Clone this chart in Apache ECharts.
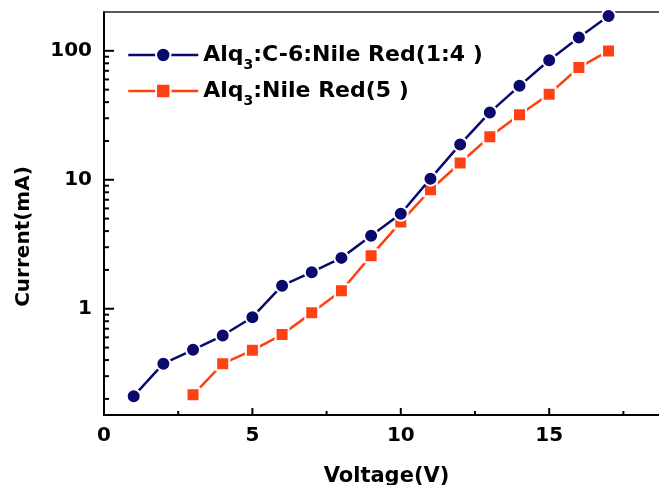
<!DOCTYPE html>
<html>
<head>
<meta charset="utf-8">
<script src="https://cdn.jsdelivr.net/npm/echarts@6/dist/echarts.min.js"></script>
<style>
html,body{margin:0;padding:0;background:#fff;}
#chart{width:659px;height:485px;}
</style>
</head>
<body>
<div id="chart"></div>
<script>
// ---- data ----
const seriesNames = ['Alq3:C-6:Nile Red(1:4 )', 'Alq3:Nile Red(5 )'];
const voltageA = [1, 2, 3, 4, 5, 6, 7, 8, 9, 10, 11, 12, 13, 14, 15, 16, 17];
const currentA = [0.21, 0.375, 0.48, 0.62, 0.86, 1.51, 1.92, 2.48, 3.68, 5.45, 10.2, 18.8, 33.3, 53.5, 84.6, 127, 186];
const voltageB = [3, 4, 5, 6, 7, 8, 9, 10, 11, 12, 13, 14, 15, 16, 17];
const currentB = [0.215, 0.375, 0.476, 0.63, 0.93, 1.38, 2.58, 4.7, 8.37, 13.5, 21.6, 31.9, 46.1, 74.2, 99.8];
const xMajorTicks = [0, 5, 10, 15];
const xMinorTicks = [2.5, 7.5, 12.5, 17.5];
const yMajorTicks = [1, 10, 100];
const yMinorTicks = [0.2, 0.3, 0.4, 0.5, 0.6, 0.7, 0.8, 0.9, 2, 3, 4, 5, 6, 7, 8, 9, 20, 30, 40, 50, 60, 70, 80, 90];
const xName = 'Voltage(V)';
const yName = 'Current(mA)';

const FONT = '"DejaVu Sans", Arial, sans-serif';
const TICK_COLOR = '#000000';
const xMin = 0, xMax = 18.7, yMin = 0.15, yMax = 200;

const chart = echarts.init(document.getElementById('chart'));

function pairs(xs, ys) { return xs.map((x, i) => [x, ys[i]]); }

// tick marks drawn through the axis scales (api.coord)
function xTickSeries(vals, len) {
  return {
    type: 'custom', z: 10,
    data: vals.map(v => [v, yMin]),
    renderItem: function (params, api) {
      const p = api.coord([api.value(0), api.value(1)]);
      return {type: 'line', shape: {x1: p[0], y1: p[1], x2: p[0], y2: p[1] - len}, style: {stroke: TICK_COLOR, lineWidth: 2}};
    }
  };
}
function yTickSeries(vals, len) {
  return {
    type: 'custom', z: 10,
    data: vals.map(v => [xMin, v]),
    renderItem: function (params, api) {
      const p = api.coord([api.value(0), api.value(1)]);
      return {type: 'line', shape: {x1: p[0], y1: p[1], x2: p[0] + len, y2: p[1]}, style: {stroke: TICK_COLOR, lineWidth: 2}};
    }
  };
}

const option = {
  animation: false,
  backgroundColor: '#ffffff',
  grid: {left: 104, right: 0, top: 12, bottom: 70, outerBoundsMode: 'none'},
  legend: {
    orient: 'vertical',
    left: 122,
    top: 37,
    itemWidth: 70,
    itemHeight: 18,
    itemGap: 6,
    data: seriesNames,
    lineStyle: {width: 2.5},
    formatter: function (name) { return name.replace('Alq3', 'Alq{sub|3}'); },
    textStyle: {
      fontFamily: FONT, fontWeight: 'bold', fontSize: 22, color: '#000', lineHeight: 26,
      rich: {
        sub: {fontFamily: FONT, fontWeight: 'bold', fontSize: 14, lineHeight: 26, verticalAlign: 'bottom', padding: [0, 0, -4, 0], color: '#000'}
      }
    }
  },
  xAxis: [
    {
      type: 'value', min: xMin, max: xMax, interval: 5, position: 'bottom',
      name: xName, nameLocation: 'middle', nameGap: 51,
      nameTextStyle: {fontFamily: FONT, fontWeight: 'bold', fontSize: 21, color: '#000', padding: [0, 0, 0, 10]},
      axisLine: {show: true, onZero: false, lineStyle: {color: '#000', width: 2}},
      axisTick: {show: false},
      axisLabel: {show: true, margin: 11, showMaxLabel: false, fontFamily: FONT, fontWeight: 'bold', fontSize: 20, color: '#000'},
      splitLine: {show: false}
    },
    {
      type: 'value', min: xMin, max: xMax, position: 'top',
      axisLine: {show: true, onZero: false, lineStyle: {color: '#222', width: 1.5}},
      axisTick: {show: false},
      axisLabel: {show: false},
      splitLine: {show: false}
    }
  ],
  yAxis: [
    {
      type: 'log', logBase: 10, min: yMin, max: yMax, position: 'left',
      name: yName, nameLocation: 'middle', nameGap: 70, nameRotate: 90,
      nameTextStyle: {fontFamily: FONT, fontWeight: 'bold', fontSize: 20, color: '#000', padding: [0, 46, 0, 0]},
      axisLine: {show: true, onZero: false, lineStyle: {color: '#000', width: 2}},
      axisTick: {show: false},
      axisLabel: {show: true, margin: 12, showMinLabel: false, showMaxLabel: false, fontFamily: FONT, fontWeight: 'bold', fontSize: 20, color: '#000'},
      splitLine: {show: false}
    }
  ],
  series: [
    {
      name: seriesNames[0], type: 'line',
      data: pairs(voltageA, currentA),
      symbol: 'circle', symbolSize: 14,
      lineStyle: {color: '#0a0a6e', width: 2.5},
      itemStyle: {color: '#0a0a6e', borderColor: '#ffffff', borderWidth: 2},
      z: 3
    },
    {
      name: seriesNames[1], type: 'line',
      data: pairs(voltageB, currentB),
      symbol: 'rect', symbolSize: 13,
      lineStyle: {color: '#ff4010', width: 2.5},
      itemStyle: {color: '#ff4010', borderColor: '#ffffff', borderWidth: 2},
      z: 2
    },
    xTickSeries(xMajorTicks, 7),
    xTickSeries(xMinorTicks, 4),
    yTickSeries(yMajorTicks, 10),
    yTickSeries(yMinorTicks, 5)
  ]
};
chart.setOption(option);
</script>
</body>
</html>
